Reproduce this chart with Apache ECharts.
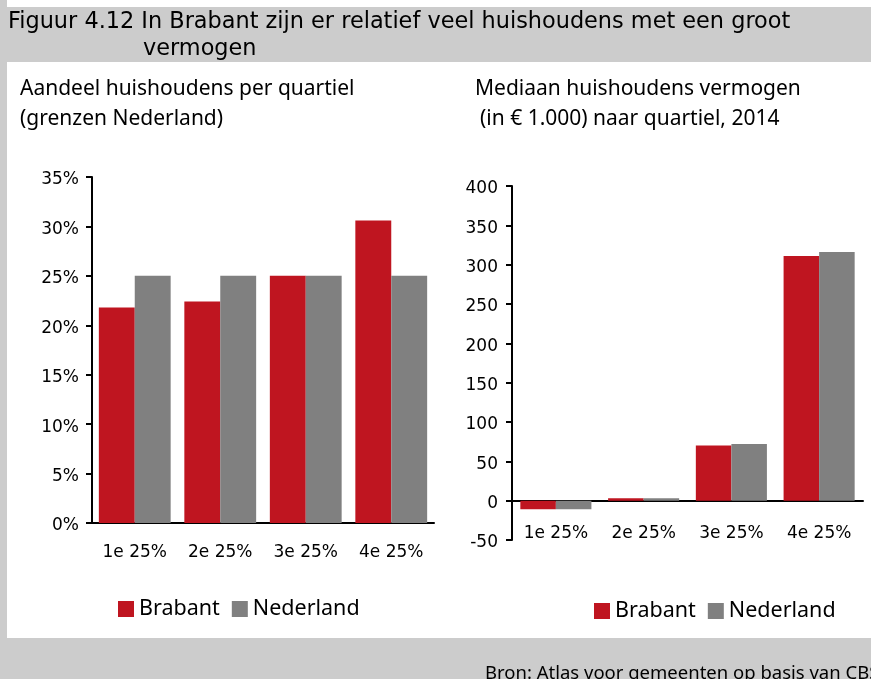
<!DOCTYPE html>
<html><head><meta charset="utf-8">
<script src="https://cdn.jsdelivr.net/npm/echarts@6/dist/echarts.min.js"></script>
<style>html,body{margin:0;padding:0;background:#fff}#c{width:871px;height:679px}</style>
</head><body><div id="c"></div>
<script>
const categories = ['1e 25%', '2e 25%', '3e 25%', '4e 25%'];
const shareBrabant = [21.8, 22.4, 25.0, 30.6];
const shareNederland = [25, 25, 25, 25];
const wealthBrabant = [-11, 3, 70, 311];
const wealthNederland = [-11, 3, 72, 316];
const seriesNames = ['Brabant', 'Nederland'];

const RED = '#bf1520', GRAY = '#808080', BG = '#cccccc';
const FONT = '"Noto Sans", "Open Sans", sans-serif';
const AXFONT = '"DejaVu Sans", sans-serif';
const chart = echarts.init(document.getElementById('c'));
const txt = (x, y, s, size, fam) => ({ type: 'text', left: x, top: y, style: { text: s, fontFamily: fam || FONT, fontSize: size, fill: '#000' } });
const tick = { length: 6, lineStyle: { color: '#000', width: 2 } };
const lbl = (m) => ({ color: '#000', fontSize: 17, fontFamily: AXFONT, margin: m });
const richY = { a: { color: '#000', fontSize: 17, fontFamily: AXFONT, padding: [6, 0, 0, 0] } };

// right chart: y range -50..400 over 354px, zero line position from top of grid
const rTop = 186, rH = 354, rMin = -50, rMax = 400;
const zeroOffset = rH * (0 - rMin) / (rMax - rMin);

chart.setOption({
  animation: false,
  textStyle: { fontFamily: FONT },
  graphic: [
    { type: 'rect', shape: { x: 0, y: 7, width: 871, height: 55 }, style: { fill: BG }, z: -10 },
    { type: 'rect', shape: { x: 0, y: 0, width: 7, height: 679 }, style: { fill: BG }, z: -10 },
    { type: 'rect', shape: { x: 0, y: 638, width: 871, height: 41 }, style: { fill: BG }, z: -10 },
    txt(8, 11, 'Figuur 4.12 In Brabant zijn er relatief veel huishoudens met een groot', 22.4, AXFONT),
    txt(143, 38, 'vermogen', 22.4, AXFONT),
    txt(20, 79, 'Aandeel huishoudens per quartiel', 21),
    txt(20, 109, '(grenzen Nederland)', 21),
    txt(475, 79, 'Mediaan huishoudens vermogen', 21),
    txt(480, 109, '(in € 1.000) naar quartiel, 2014', 21),
    txt(485, 664, 'Bron: Atlas voor gemeenten op basis van CBS', 18.5)
  ],
  legend: [
    { data: seriesNames, left: 118, top: 598, padding: 0, itemWidth: 16, itemHeight: 16, itemGap: 12, icon: 'rect',
      textStyle: { fontSize: 21.5, color: '#000', fontFamily: FONT }, selectedMode: false },
    { data: seriesNames, left: 594, top: 600, padding: 0, itemWidth: 16, itemHeight: 16, itemGap: 12, icon: 'rect',
      textStyle: { fontSize: 21.5, color: '#000', fontFamily: FONT }, selectedMode: false }
  ],
  grid: [
    { left: 92, top: 177, width: 342, height: 346 },
    { left: 512, top: rTop, width: 351, height: rH }
  ],
  xAxis: [
    { type: 'category', gridIndex: 0, data: categories, axisLine: { lineStyle: { color: '#000', width: 2 } },
      axisTick: tick, axisLabel: lbl(21) },
    { type: 'category', gridIndex: 1, data: categories, offset: -zeroOffset,
      axisLine: { onZero: false, lineStyle: { color: '#000', width: 2 } },
      axisTick: tick, axisLabel: lbl(24) }
  ],
  yAxis: [
    { type: 'value', gridIndex: 0, min: 0, max: 35, interval: 5, splitLine: { show: false },
      axisLine: { show: true, lineStyle: { color: '#000', width: 2 } },
      axisTick: { show: true, length: 6, lineStyle: { color: '#000', width: 2 } },
      axisLabel: Object.assign(lbl(13), { formatter: '{a|{value}%}', rich: richY }) },
    { type: 'value', gridIndex: 1, min: rMin, max: rMax, interval: 50, splitLine: { show: false },
      axisLine: { show: true, onZero: false, lineStyle: { color: '#000', width: 2 } },
      axisTick: { show: true, length: 6, lineStyle: { color: '#000', width: 2 } },
      axisLabel: Object.assign(lbl(14), { formatter: '{a|{value}}', rich: richY }) }
  ],
  series: [
    { name: seriesNames[0], type: 'bar', xAxisIndex: 0, yAxisIndex: 0, data: shareBrabant, itemStyle: { color: RED }, barGap: '0%', barCategoryGap: '16%' },
    { name: seriesNames[1], type: 'bar', xAxisIndex: 0, yAxisIndex: 0, data: shareNederland, itemStyle: { color: GRAY }, barGap: '0%', barCategoryGap: '16%' },
    { name: seriesNames[0], type: 'bar', xAxisIndex: 1, yAxisIndex: 1, data: wealthBrabant, itemStyle: { color: RED }, barGap: '0%', barCategoryGap: '19%' },
    { name: seriesNames[1], type: 'bar', xAxisIndex: 1, yAxisIndex: 1, data: wealthNederland, itemStyle: { color: GRAY }, barGap: '0%', barCategoryGap: '19%' }
  ]
});
</script></body></html>
